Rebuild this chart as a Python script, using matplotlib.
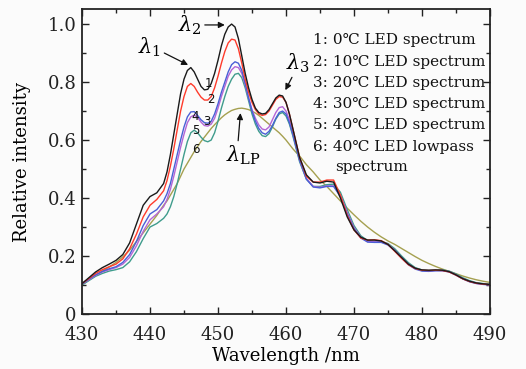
import matplotlib
matplotlib.use("Agg")
import matplotlib.pyplot as plt
from matplotlib.ticker import MultipleLocator, FixedLocator, FixedFormatter

# ---------------- data ----------------
wavelength = [430, 431, 432, 433, 434, 435, 436, 437, 438, 439, 440, 441, 442,
              442.5, 443, 443.5, 444, 444.5, 445, 445.5, 446, 446.5, 447, 447.5, 448,
              448.5, 449, 449.5, 450, 450.5, 451, 451.5, 452, 452.5, 453, 453.5, 454,
              454.5, 455, 455.5, 456, 456.5, 457, 457.5, 458, 458.5, 459, 459.5, 460,
              460.5, 461, 461.5, 462,
              463, 464, 465, 466, 467, 468, 469, 470, 471, 472, 473, 474, 475, 476,
              477, 478, 479, 480, 481, 482, 483, 484, 485, 486, 487, 488, 489, 490]

led_0C = [0.105, 0.125, 0.145, 0.16, 0.172, 0.185, 0.205, 0.245, 0.31, 0.375, 0.405, 0.418, 0.45,
          0.49, 0.55, 0.62, 0.69, 0.76, 0.81, 0.84, 0.85, 0.835, 0.81, 0.785, 0.773,
          0.775, 0.795, 0.83, 0.875, 0.925, 0.965, 0.99, 1.0, 0.99, 0.95, 0.89, 0.83,
          0.78, 0.74, 0.71, 0.695, 0.69, 0.692, 0.705, 0.725, 0.745, 0.755, 0.752, 0.73,
          0.69, 0.64, 0.59, 0.54,
          0.48, 0.455, 0.452, 0.458, 0.455, 0.40, 0.335, 0.29, 0.265, 0.255, 0.255, 0.252, 0.24, 0.218,
          0.195, 0.172, 0.158, 0.152, 0.151, 0.152, 0.151, 0.146, 0.135, 0.122, 0.113, 0.107, 0.104, 0.102]

led_10C = [0.105, 0.122, 0.14, 0.153, 0.163, 0.172, 0.19, 0.225, 0.275, 0.335, 0.375, 0.395, 0.425,
           0.46, 0.51, 0.57, 0.635, 0.70, 0.75, 0.785, 0.795, 0.785, 0.765, 0.748, 0.738,
           0.738, 0.75, 0.78, 0.82, 0.865, 0.905, 0.935, 0.948, 0.945, 0.915, 0.865, 0.81,
           0.765, 0.73, 0.705, 0.69, 0.685, 0.688, 0.70, 0.72, 0.74, 0.75, 0.748, 0.73,
           0.69, 0.64, 0.59, 0.54,
           0.475, 0.455, 0.455, 0.462, 0.462, 0.41, 0.34, 0.29, 0.262, 0.255, 0.256, 0.253, 0.24, 0.216,
           0.192, 0.17, 0.157, 0.151, 0.15, 0.151, 0.15, 0.145, 0.134, 0.121, 0.112, 0.106, 0.103, 0.101]

led_20C = [0.103, 0.118, 0.133, 0.145, 0.153, 0.16, 0.172, 0.195, 0.235, 0.285, 0.325, 0.345, 0.37,
           0.395, 0.43, 0.475, 0.525, 0.575, 0.62, 0.66, 0.68, 0.686, 0.678, 0.662, 0.65,
           0.648, 0.655, 0.675, 0.71, 0.75, 0.785, 0.82, 0.842, 0.853, 0.85, 0.83, 0.79,
           0.745, 0.705, 0.675, 0.652, 0.638, 0.635, 0.645, 0.67, 0.695, 0.712, 0.715, 0.70,
           0.67, 0.625, 0.578, 0.532,
           0.468, 0.44, 0.437, 0.442, 0.442, 0.41, 0.35, 0.298, 0.265, 0.25, 0.249, 0.249, 0.24, 0.22,
           0.195, 0.172, 0.157, 0.15, 0.149, 0.15, 0.15, 0.146, 0.135, 0.122, 0.112, 0.106, 0.103, 0.101]

led_30C = [0.103, 0.12, 0.135, 0.147, 0.156, 0.163, 0.178, 0.205, 0.25, 0.305, 0.345, 0.36, 0.39,
           0.415, 0.45, 0.50, 0.55, 0.60, 0.645, 0.68, 0.697, 0.698, 0.685, 0.67, 0.66,
           0.658, 0.665, 0.69, 0.725, 0.765, 0.80, 0.835, 0.86, 0.87, 0.865, 0.84, 0.795,
           0.745, 0.70, 0.665, 0.64, 0.625, 0.62, 0.63, 0.65, 0.675, 0.695, 0.70, 0.69,
           0.66, 0.62, 0.575, 0.53,
           0.465, 0.438, 0.435, 0.44, 0.44, 0.405, 0.345, 0.295, 0.262, 0.248, 0.247, 0.247, 0.238, 0.218,
           0.193, 0.17, 0.155, 0.148, 0.147, 0.149, 0.149, 0.145, 0.134, 0.121, 0.111, 0.105, 0.102, 0.1]

led_40C = [0.1, 0.115, 0.13, 0.14, 0.148, 0.153, 0.16, 0.18, 0.215, 0.26, 0.3, 0.312, 0.33,
           0.345, 0.37, 0.405, 0.45, 0.50, 0.55, 0.595, 0.625, 0.634, 0.625, 0.61, 0.598,
           0.594, 0.6, 0.625, 0.665, 0.71, 0.75, 0.785, 0.81, 0.827, 0.83, 0.815, 0.78,
           0.735, 0.69, 0.655, 0.63, 0.615, 0.612, 0.622, 0.645, 0.672, 0.69, 0.695, 0.683,
           0.655, 0.615, 0.57, 0.525,
           0.465, 0.44, 0.44, 0.446, 0.448, 0.42, 0.36, 0.305, 0.27, 0.253, 0.25, 0.25, 0.243, 0.225,
           0.2, 0.177, 0.16, 0.152, 0.15, 0.151, 0.152, 0.148, 0.138, 0.125, 0.115, 0.108, 0.105, 0.103]

led_40C_lowpass = [0.1, 0.117, 0.133, 0.148, 0.162, 0.178, 0.197, 0.22, 0.25, 0.28, 0.31, 0.34, 0.375,
                   0.39, 0.41, 0.43, 0.45, 0.475, 0.50, 0.52, 0.54, 0.56, 0.578, 0.595, 0.61,
                   0.625, 0.64, 0.653, 0.665, 0.677, 0.687, 0.695, 0.702, 0.706, 0.709, 0.71, 0.708,
                   0.705, 0.70, 0.693, 0.685, 0.675, 0.665, 0.655, 0.645, 0.635, 0.625, 0.613, 0.60,
                   0.585, 0.57, 0.557, 0.545,
                   0.515, 0.49, 0.462, 0.44, 0.415, 0.39, 0.365, 0.342, 0.32, 0.30, 0.282, 0.266, 0.252, 0.24,
                   0.226, 0.212, 0.198, 0.185, 0.174, 0.164, 0.155, 0.147, 0.139, 0.131, 0.124, 0.118, 0.113, 0.109]

series_labels = ["1: 0\u2103 LED spectrum",
                 "2: 10\u2103 LED spectrum",
                 "3: 20\u2103 LED spectrum",
                 "4: 30\u2103 LED spectrum",
                 "5: 40\u2103 LED spectrum",
                 "6: 40\u2103 LED lowpass",
                 "spectrum"]
curve_numbers = ["1", "2", "3", "4", "5", "6"]
xticks = [430, 440, 450, 460, 470, 480, 490]
yticks = [0, 0.2, 0.4, 0.6, 0.8, 1.0]
ytick_labels = ["0", "0.2", "0.4", "0.6", "0.8", "1.0"]

# ---------------- style ----------------
plt.rcParams['font.family'] = ['DejaVu Serif', 'DejaVu Sans']
plt.rcParams['mathtext.fontset'] = 'dejavuserif'

W, H = 526, 369
fig = plt.figure(figsize=(W / 100, H / 100), dpi=100, facecolor='#fbfbfb')
ax = fig.add_axes([82 / W, 1 - 314 / H, (490 - 82) / W, (314 - 9) / H])
ax.set_facecolor('#fbfbfb')

colors = ['#1a1a1a', '#ff3b2b', '#b466d6', '#4a5fd6', '#3f9c8c', '#a5a050']
series = [led_0C, led_10C, led_20C, led_30C, led_40C, led_40C_lowpass]
order = [5, 4, 2, 3, 1, 0]
for i in order:
    ax.plot(wavelength, series[i], color=colors[i], lw=1.0)

ax.set_xlim(430, 490)
ax.set_ylim(0, 1.052)
ax.xaxis.set_major_locator(FixedLocator(xticks))
ax.xaxis.set_minor_locator(MultipleLocator(5))
ax.yaxis.set_major_locator(FixedLocator(yticks))
ax.yaxis.set_major_formatter(FixedFormatter(ytick_labels))
ax.yaxis.set_minor_locator(MultipleLocator(0.1))
ax.tick_params(which='both', direction='in', top=True, right=True, labelsize=13,
               colors='#222222', width=1.0)
ax.tick_params(which='major', length=5)
ax.tick_params(which='minor', length=3)
ax.tick_params(axis='x', pad=9)
ax.tick_params(axis='y', pad=4)
for sp in ax.spines.values():
    sp.set_linewidth(1.3)
    sp.set_color('#222222')

ax.set_xlabel("Wavelength /nm", fontsize=13, labelpad=2)
ax.set_ylabel("Relative intensity", fontsize=13, labelpad=12)

# legend as text block
leg_y = [0.945, 0.869, 0.797, 0.724, 0.652, 0.576, 0.507]
for k, (lab, yy) in enumerate(zip(series_labels, leg_y)):
    xx = 467.2 if k == len(series_labels) - 1 else 464.0
    ax.text(xx, yy, lab, fontsize=11, ha='left', va='center', color='#111111')

# curve numbers
num_pos = [(448.6, 0.795), (448.9, 0.74), (448.4, 0.664), (446.6, 0.68), (446.8, 0.632), (446.7, 0.568)]
for n, (xx, yy) in zip(curve_numbers, num_pos):
    ax.text(xx, yy, n, fontsize=8.5, family='DejaVu Sans', ha='center', va='center', color='#111111')

arrow = dict(arrowstyle='-|>', lw=0.9, color='#111111', mutation_scale=9, shrinkA=0, shrinkB=0)
ax.annotate(r'$\lambda_1$', xy=(445.6, 0.859), xytext=(440.0, 0.921), fontsize=15,
            ha='center', va='center', arrowprops=dict(arrow, relpos=(1.0, 0.3)))
ax.annotate(r'$\lambda_2$', xy=(451.0, 0.997), xytext=(445.9, 0.997), fontsize=15,
            ha='center', va='center', arrowprops=dict(arrow, relpos=(1.0, 0.5)))
ax.annotate(r'$\lambda_3$', xy=(459.9, 0.772), xytext=(461.8, 0.866), fontsize=15,
            ha='center', va='center', arrowprops=dict(arrow, relpos=(0.3, 0.0)))
ax.annotate(r'$\lambda_{\rm LP}$', xy=(453.3, 0.693), xytext=(453.7, 0.548), fontsize=15,
            ha='center', va='center', arrowprops=dict(arrow, relpos=(0.35, 1.0)))

fig.savefig("out.png", dpi=100, facecolor=fig.get_facecolor())
